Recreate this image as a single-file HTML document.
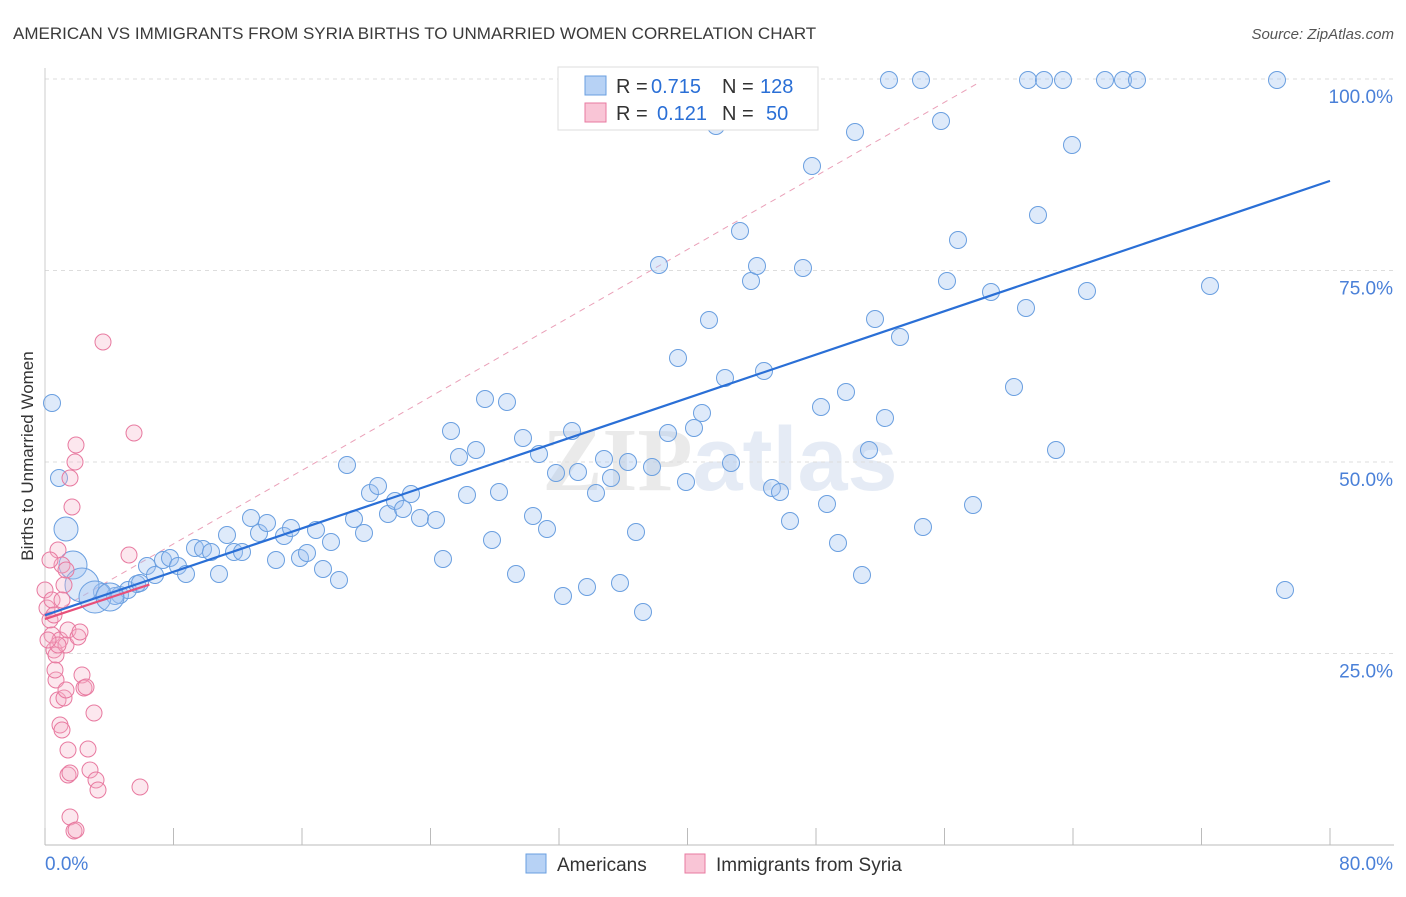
<!DOCTYPE html>
<html><head><meta charset="utf-8">
<style>
body{margin:0;background:#fff;font-family:"Liberation Sans",sans-serif;}
svg text{font-family:"Liberation Sans",sans-serif;}
</style></head>
<body>
<svg id="chart" width="1406" height="892" xmlns="http://www.w3.org/2000/svg">
<text x="13" y="39" font-size="17" fill="#3a3a3a">AMERICAN VS IMMIGRANTS FROM SYRIA BIRTHS TO UNMARRIED WOMEN CORRELATION CHART</text>
<text x="1394" y="39" font-size="15" fill="#555" text-anchor="end" font-style="italic">Source: ZipAtlas.com</text>
<text transform="translate(33,456) rotate(-90)" font-size="17" fill="#333" text-anchor="middle">Births to Unmarried Women</text>
<text x="720" y="490" font-size="90" fill="#dfe7f3" text-anchor="middle" font-weight="bold" opacity="0.8"><tspan fill="#e6e6e6" font-family="Liberation Serif">ZIP</tspan>atlas</text>
<g id="grid"></g><g id="marks"></g>
<g>
<rect x="558" y="67" width="260" height="63" fill="#fff" stroke="#ddd"/>
<rect x="585" y="76" width="21" height="19" fill="#b7d2f5" stroke="#6a9fe0"/>
<rect x="585" y="103" width="21" height="19" fill="#f9c5d6" stroke="#e87aa0"/>
<text x="616" y="93" font-size="20" fill="#333">R =</text>
<text x="651" y="93" font-size="20" fill="#2a6fd6">0.715</text>
<text x="722" y="93" font-size="20" fill="#333">N =</text>
<text x="760" y="93" font-size="20" fill="#2a6fd6">128</text>
<text x="616" y="120" font-size="20" fill="#333">R =</text>
<text x="657" y="120" font-size="20" fill="#2a6fd6">0.121</text>
<text x="722" y="120" font-size="20" fill="#333">N =</text>
<text x="766" y="120" font-size="20" fill="#2a6fd6">50</text>
</g>
<g>
<rect x="526" y="854" width="20" height="19" fill="#b7d2f5" stroke="#6a9fe0"/>
<text x="557" y="871" font-size="19" fill="#333">Americans</text>
<rect x="685" y="854" width="20" height="19" fill="#f9c5d6" stroke="#e87aa0"/>
<text x="716" y="871" font-size="19" fill="#333">Immigrants from Syria</text>
</g>
</svg>
<script>
const xTicks=[0,10,20,30,40,50,60,70,80];
const yTicks=[25,50,75,100];
const yTickLabels=["25.0%","50.0%","75.0%","100.0%"];
const xTickLabels=["0.0%","80.0%"];
const bluePx=[[52,403],[59,478],[120,595],[128,590],[137,584],[147,566],[155,575],[163,560],[170,558],[178,566],[186,574],[195,548],[203,549],[211,552],[219,574],[227,535],[234,552],[242,552],[251,518],[259,533],[267,523],[276,560],[284,536],[291,528],[300,558],[307,553],[316,530],[323,569],[331,542],[339,580],[347,465],[354,519],[364,533],[370,493],[378,486],[388,514],[395,501],[403,509],[411,494],[420,518],[436,520],[443,559],[451,431],[459,457],[467,495],[476,450],[485,399],[492,540],[499,492],[507,402],[516,574],[523,438],[533,516],[539,454],[547,529],[556,473],[563,596],[572,431],[578,472],[587,587],[596,493],[604,459],[611,478],[620,583],[628,462],[636,532],[643,612],[652,467],[659,265],[668,433],[678,358],[686,482],[694,428],[702,413],[709,320],[716,126],[725,378],[731,463],[740,231],[751,281],[757,266],[764,371],[772,488],[780,492],[790,521],[803,268],[812,166],[821,407],[827,504],[838,543],[846,392],[855,132],[862,575],[869,450],[875,319],[885,418],[889,80],[900,337],[921,80],[923,527],[941,121],[947,281],[958,240],[973,505],[991,292],[1014,387],[1026,308],[1028,80],[1038,215],[1044,80],[1056,450],[1063,80],[1072,145],[1087,291],[1105,80],[1123,80],[1137,80],[1210,286],[1277,80],[1285,590],[102,592],[115,596],[140,583]];
const blueBigPx=[[66,529,12],[73,565,14],[82,585,17],[95,597,16],[110,597,14]];
const pinkPx=[[45,590],[47,608],[50,620],[52,635],[54,650],[56,655],[58,550],[60,640],[62,565],[64,585],[66,645],[68,630],[70,478],[72,507],[75,462],[76,445],[78,637],[80,632],[82,675],[84,688],[86,687],[88,749],[90,770],[94,713],[96,780],[98,790],[103,342],[129,555],[134,433],[140,787],[56,680],[58,700],[60,725],[62,730],[64,698],[66,690],[68,750],[70,817],[74,831],[76,830],[52,600],[54,615],[58,645],[62,600],[66,570],[68,775],[70,773],[50,560],[55,670],[48,640]];
const toX=p=>(p-45)/16.0625, toY=p=>(845-p)/7.66;
const americansX=bluePx.map(p=>toX(p[0])), americansY=bluePx.map(p=>toY(p[1]));
const bigX=blueBigPx.map(p=>toX(p[0])), bigY=blueBigPx.map(p=>toY(p[1])), bigR=blueBigPx.map(p=>p[2]);
const syriaX=pinkPx.map(p=>toX(p[0])), syriaY=pinkPx.map(p=>toY(p[1]));
const blueTrend=[[0,30.0],[80,86.7]];
const pinkTrend=[[0,29.5],[6.5,34.0]];
const pinkDash=[[0,29.7],[58.2,99.6]];

const X=v=>45+v*16.0625, Y=v=>845-v*7.66;
const NS="http://www.w3.org/2000/svg";
function mk(tag,attrs,parent){const e=document.createElementNS(NS,tag);for(const k in attrs)e.setAttribute(k,attrs[k]);parent.appendChild(e);return e;}
const grid=document.getElementById('grid'), marks=document.getElementById('marks');
yTicks.forEach((t,i)=>{
 const g=mk('line',{x1:45,x2:1394,y1:Y(t),y2:Y(t),stroke:'#ddd','stroke-dasharray':'4,4'},grid);
 
 
 const l=mk('text',{x:1393,y:Y(t)+24,'font-size':19,fill:'#4a80d8','text-anchor':'end'},grid);
 l.textContent=yTickLabels[i];
 
 
});
const ax=mk('line',{x1:45,x2:1394,y1:845,y2:845,stroke:'#bbb'},grid);


const ay=mk('line',{x1:45,x2:45,y1:68,y2:845,stroke:'#ccc'},grid);


for(let i=0;i<=10;i++){const tk=mk('line',{x1:X(i*8),x2:X(i*8),y1:828,y2:845,stroke:'#bbb'},grid);
 
 }
[[45,'start',xTickLabels[0]],[1393,'end',xTickLabels[1]]].forEach(a=>{const t=mk('text',{x:a[0],y:870,'font-size':19,fill:'#4a80d8','text-anchor':a[1]},grid);t.textContent=a[2];
 
 });
const pd=mk('line',{x1:X(pinkDash[0][0]),y1:Y(pinkDash[0][1]),x2:X(pinkDash[1][0]),y2:Y(pinkDash[1][1]),stroke:'#eaa0b8','stroke-dasharray':'6,5','stroke-width':1},marks);


americansX.forEach((v,i)=>{const c=mk('circle',{cx:X(v),cy:Y(americansY[i]),r:8.5,fill:'rgba(160,195,240,0.35)',stroke:'#6a9fe0','stroke-width':1},marks);
 
 });
bigX.forEach((v,i)=>{const c=mk('circle',{cx:X(v),cy:Y(bigY[i]),r:bigR[i],fill:'rgba(160,195,240,0.35)',stroke:'#6a9fe0','stroke-width':1},marks);
 
 });
syriaX.forEach((v,i)=>{const c=mk('circle',{cx:X(v),cy:Y(syriaY[i]),r:8,fill:'rgba(245,175,200,0.3)',stroke:'#e87aa0','stroke-width':1},marks);
 
 });
const bt=mk('line',{x1:X(blueTrend[0][0]),y1:Y(blueTrend[0][1]),x2:X(blueTrend[1][0]),y2:Y(blueTrend[1][1]),stroke:'#2a6fd6','stroke-width':2.2},marks);


const pt=mk('line',{x1:X(pinkTrend[0][0]),y1:Y(pinkTrend[0][1]),x2:X(pinkTrend[1][0]),y2:Y(pinkTrend[1][1]),stroke:'#e8507a','stroke-width':2.2},marks);


</script>
</body></html>
